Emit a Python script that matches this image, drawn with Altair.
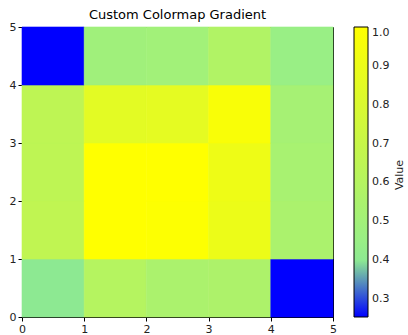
import altair as alt
import pandas as pd

# grid values, rows listed from bottom (y 0-1) to top (y 4-5), columns x 0..4
row_bottom = [0.40, 0.60, 0.55, 0.56, 0.254]
row_1 = [0.66, 1.00, 0.99, 0.90, 0.55]
row_2 = [0.65, 1.00, 1.00, 0.91, 0.53]
row_3 = [0.65, 0.85, 0.86, 0.97, 0.52]
row_top = [0.254, 0.49, 0.50, 0.58, 0.45]
rows = [row_bottom, row_1, row_2, row_3, row_top]

cmap_stops = [0.254, 0.403, 1.0]
cmap_colors = ["#0000ff", "#90ee90", "#ffff00"]
legend_ticks = [0.3, 0.4, 0.5, 0.6, 0.7, 0.8, 0.9, 1.0]
axis_ticks = [0, 1, 2, 3, 4, 5]
colorbar_label = ["Value"]

records = []
for j, row in enumerate(rows):
    for i, v in enumerate(row):
        records.append({"x": i, "x2": i + 1, "y": j, "y2": j + 1,
                        "value": v, "edge": v})
df = pd.DataFrame(records)

font = "DejaVu Sans"
axis_common = dict(
    values=axis_ticks, grid=False, title=None, domainColor="#000000",
    tickColor="#000000", tickSize=4, labelFontSize=11, labelColor="#222222",
    labelFont=font, labelPadding=2,
)

heat = alt.Chart(df).mark_rect(strokeWidth=0.6).encode(
    x=alt.X("x:Q", scale=alt.Scale(domain=[0, 5], nice=False),
            axis=alt.Axis(**axis_common, labelFlush=False)),
    x2="x2:Q",
    y=alt.Y("y:Q", scale=alt.Scale(domain=[0, 5], nice=False),
            axis=alt.Axis(**axis_common, labelFlush=False)),
    y2="y2:Q",
    stroke=alt.Stroke("edge:Q", legend=None,
                      scale=alt.Scale(domain=cmap_stops, range=cmap_colors,
                                      interpolate="rgb")),
    color=alt.Color(
        "value:Q",
        scale=alt.Scale(domain=cmap_stops, range=cmap_colors, interpolate="rgb"),
        legend=alt.Legend(
            type="gradient", title=None,
            values=legend_ticks, gradientLength=290, gradientThickness=14,
            gradientStrokeColor="#000000", gradientStrokeWidth=1,
            labelFontSize=11, labelFont=font, labelColor="#222222",
            offset=21, padding=0, labelOffset=4, direction="vertical",
            format=".1f",
        ),
    ),
)

label = alt.Chart(pd.DataFrame({"t": colorbar_label})).mark_text(
    angle=270, font=font, fontSize=11, color="#222222", baseline="middle",
    align="center",
).encode(text="t:N", x=alt.value(378), y=alt.value(148))

chart = alt.layer(heat, label).resolve_scale(color="independent").properties(
    width=311, height=290,
    title=alt.TitleParams("Custom Colormap Gradient", fontSize=13, font=font,
                          fontWeight="normal", color="#000000", offset=-1),
    padding={"left": 22, "top": 27, "right": 75, "bottom": 18},
    autosize=alt.AutoSizeParams(type="none"),
).configure_view(stroke="#000000", strokeWidth=1)

chart.save("out.html", embed_options={"renderer": "svg", "actions": False})
